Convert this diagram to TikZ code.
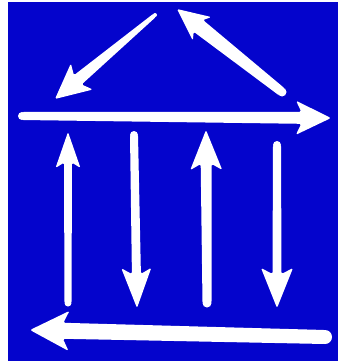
\documentclass[tikz,border=0pt]{standalone}
\usetikzlibrary{calc}
\definecolor{bgblue}{RGB}{4,4,204}
% #1 tail, #2 tip, #3 tail half-width, #4 shaft half-width near head,
% #5 head length, #6 head half-width, #7 name prefix
\newcommand\handarrow[7]{%
  \coordinate (#7hb) at ($(#2)!#5!(#1)$);
  \coordinate (#7nt) at ($(#2)!0.85*#5!(#1)$);
  \coordinate (#7w1) at ($(#7hb)!#6!90:(#2)$);
  \coordinate (#7w2) at ($(#7hb)!#6!-90:(#2)$);
  \coordinate (#7t1) at ($(#1)!#3!90:(#2)$);
  \coordinate (#7t2) at ($(#1)!#3!-90:(#2)$);
  \coordinate (#7b1) at ($(#7nt)!#4!-90:(#1)$);
  \coordinate (#7b2) at ($(#7nt)!#4!90:(#1)$);
  \fill[arrowfill] (#7t1) -- (#7b1) -- (#7w1) -- (#2) -- (#7w2) -- (#7b2) -- (#7t2) -- cycle;
  \fill[white] (#1) circle (#3);
}
\begin{document}
\begin{tikzpicture}[x=1pt,y=-1pt,
  arrowfill/.style={white, rounded corners=1.5pt}]
\useasboundingbox (0,0) rectangle (338,361);
\fill[white] (0,0) rectangle (338,361);
\fill[bgblue] (8,2) rectangle (338,361);
% roof arrows
\coordinate (Atail) at (155,15);  \coordinate (Atip) at (55,99);
\handarrow{Atail}{Atip}{2pt}{6pt}{35pt}{17pt}{A}
\coordinate (Btail) at (282,92);  \coordinate (Btip) at (177,9);
\handarrow{Btail}{Btip}{4.5pt}{7.5pt}{32pt}{15pt}{B}
% top beam
\coordinate (Ctail) at (22,116);  \coordinate (Ctip) at (331,118);
\handarrow{Ctail}{Ctip}{4pt}{6pt}{35pt}{17pt}{C}
% columns
\coordinate (D1tail) at (68,303);  \coordinate (D1tip) at (68,132);
\handarrow{D1tail}{D1tip}{3.5pt}{4pt}{36pt}{12.5pt}{D1}
\coordinate (D2tail) at (134,135); \coordinate (D2tip) at (137,308);
\handarrow{D2tail}{D2tip}{4pt}{4.5pt}{40pt}{15pt}{D2}
\coordinate (D3tail) at (207,303); \coordinate (D3tip) at (206,130);
\handarrow{D3tail}{D3tip}{4.5pt}{5.5pt}{40pt}{16pt}{D3}
\coordinate (D4tail) at (277,145); \coordinate (D4tip) at (277,308);
\handarrow{D4tail}{D4tip}{4pt}{4.5pt}{40pt}{16pt}{D4}
% base
\coordinate (Etail) at (325,337);  \coordinate (Etip) at (30,330);
\handarrow{Etail}{Etip}{7pt}{8pt}{39pt}{20pt}{E}
\end{tikzpicture}
\end{document}
